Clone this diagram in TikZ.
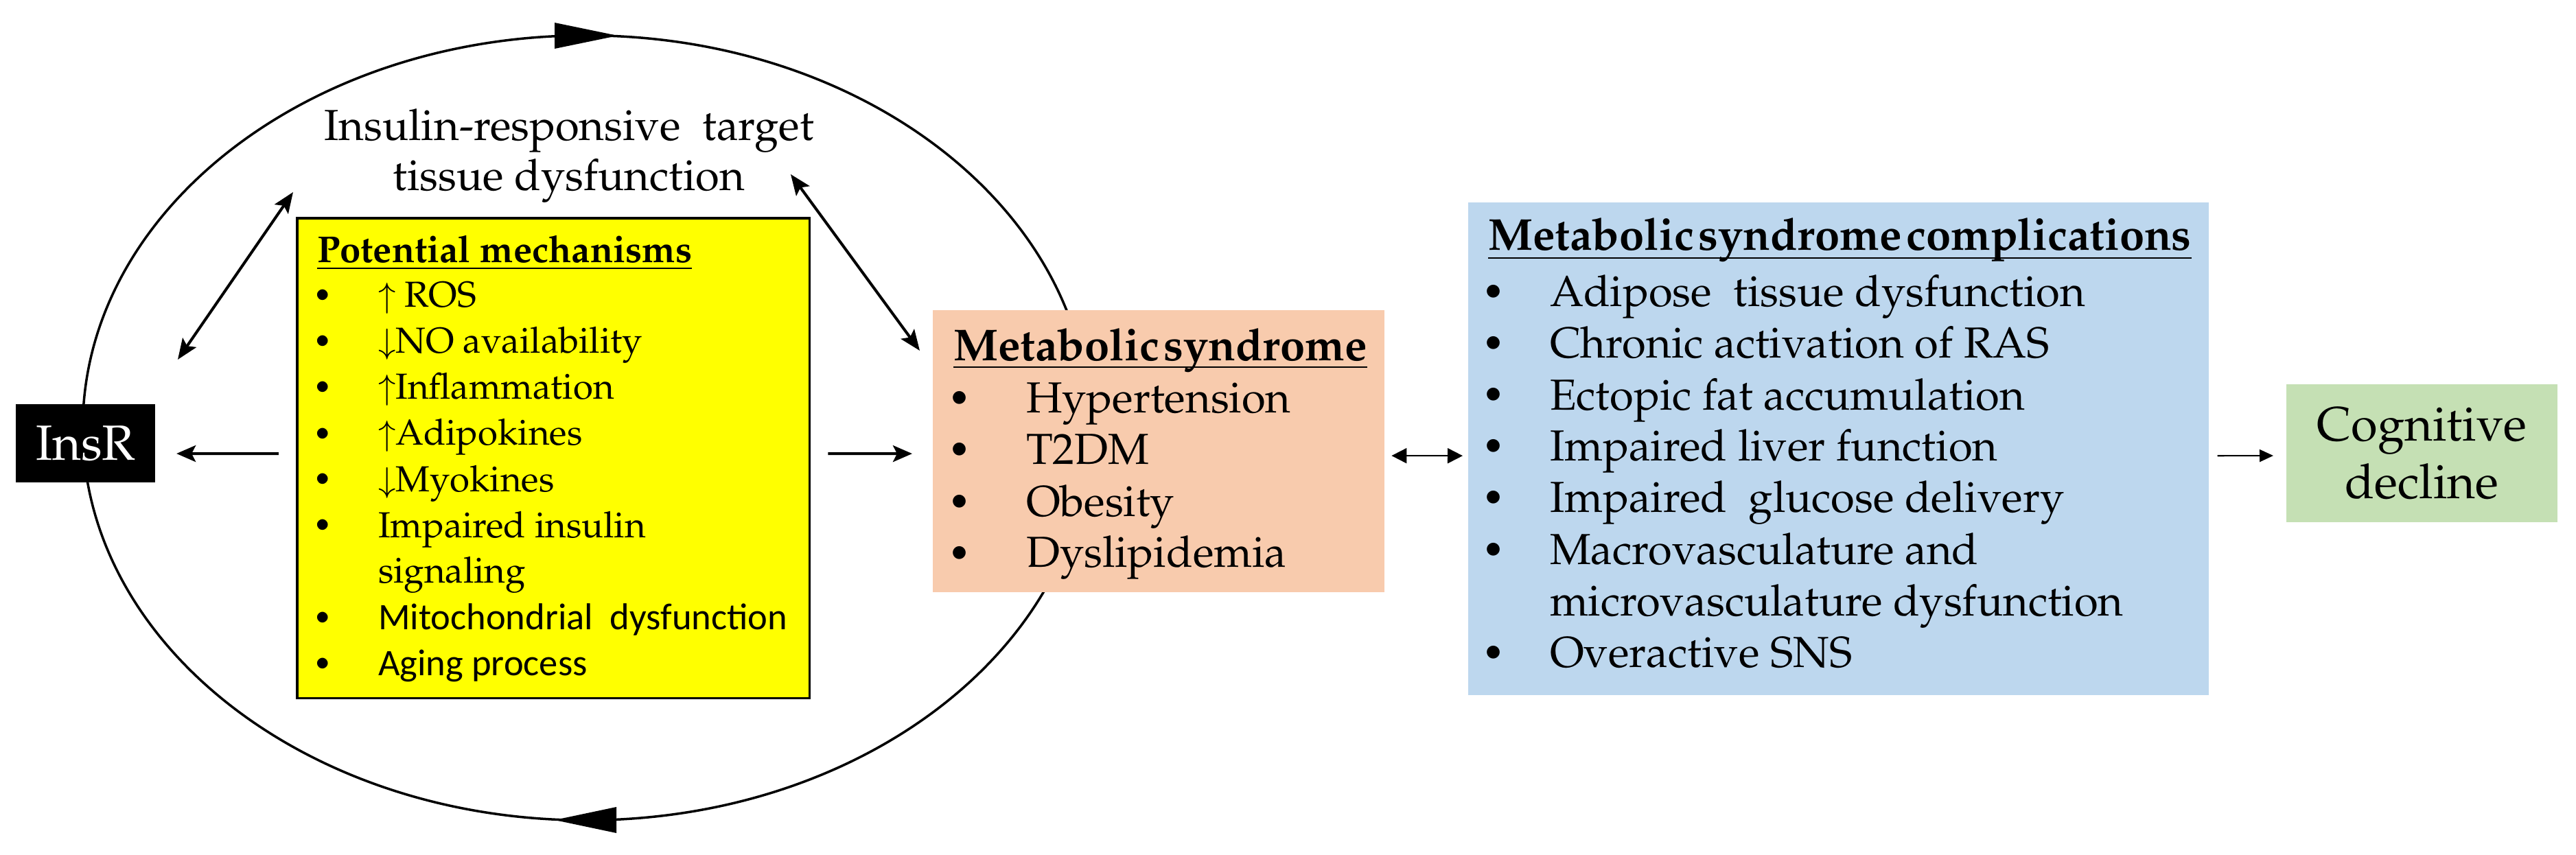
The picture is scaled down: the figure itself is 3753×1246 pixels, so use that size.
\documentclass[tikz,border=0pt]{standalone}
\usepackage{graphicx}
\usepackage{fontspec}
\newfontfamily\calib{Carlito}
\newcommand{\pal}{\fontencoding{T1}\fontfamily{ppl}\selectfont}
\newcommand{\smbul}{\scalebox{0.86}{\textbullet}}
\usetikzlibrary{arrows.meta,calc}
\definecolor{ylw}{HTML}{FFFF00}
\definecolor{peach}{HTML}{F8CBAD}
\definecolor{lblue}{HTML}{BDD7EE}
\definecolor{lgreen}{HTML}{C5E0B4}
\begin{document}
\begin{tikzpicture}[x=0.01cm,y=-0.01cm,
  box/.style={anchor=north west, inner sep=0pt, outer sep=0pt},
  txt/.style={anchor=base west, inner sep=0pt, outer sep=0pt},
  bul/.style={anchor=base, inner sep=0pt, outer sep=0pt},
  bigtxt/.style={font=\pal\fontsize{18}{21}\selectfont},
  smalltxt/.style={font=\pal\fontsize{15}{18}\selectfont},
  sanstxt/.style={font=\fontsize{15.5}{18}\selectfont\calib},
  bigttl/.style={txt, font=\pal\fontsize{18.5}{22}\selectfont\bfseries},
  smallttl/.style={txt, font=\pal\fontsize{15.5}{18}\selectfont\bfseries},
  uline/.style={line width=0.8pt},
  thickarr/.style={line width=1.15pt, -{Stealth[length=0.28cm,width=0.24cm,inset=0.06cm]}},
  dblarr/.style={line width=1.15pt, {Stealth[length=0.3cm,width=0.24cm,inset=0.06cm]}-{Stealth[length=0.3cm,width=0.24cm,inset=0.06cm]}},
  thinarr/.style={line width=0.6pt, -{Triangle[length=0.2cm,width=0.18cm]}},
  thindbl/.style={line width=0.6pt, {Triangle[length=0.22cm,width=0.22cm]}-{Triangle[length=0.22cm,width=0.22cm]}}
]
\useasboundingbox (0,0) rectangle (3753,1246);

% cycle ellipse
\draw[line width=1pt] (854,623.5) ellipse [x radius=7.33cm, y radius=5.715cm];
\fill (808,33) -- (900,52) -- (808,71) -- cycle;
\fill (898,1176) -- (808,1195) -- (898,1214) -- cycle;

% boxes
\node[box, fill=black, minimum width=2.03cm, minimum height=1.14cm,
      text=white, font=\pal\fontsize{20.5}{24}\selectfont] (insr) at (23,589) {InsR};
\node[box, draw=black, line width=0.9pt, fill=ylw, minimum width=7.46cm, minimum height=6.99cm] (ymech) at (433,318) {};
\node[box, fill=peach, minimum width=6.58cm, minimum height=4.11cm] (metab) at (1359,452) {};
\node[box, fill=lblue, minimum width=10.78cm, minimum height=7.18cm] (compl) at (2139,295) {};
\node[box, fill=lgreen, minimum width=3.95cm, minimum height=2.01cm, align=center,
      font=\pal\fontsize{20}{23.9}\selectfont] (cog) at (3331,560) {Cognitive\\decline};

% title of the cycle
\node[bigtxt, align=center, inner sep=0pt] (irt) at (829,227) {Insulin-responsive\ \ target\\tissue dysfunction};

% yellow box content
\node[smallttl] (ytitle) at (462,383) {Potential mechanisms};
\draw[uline] ($(ytitle.base west)+(0,8)$) -- ($(ytitle.base east)+(0,8)$);
\foreach \yy [count=\i] in {448,515,582,649,716,783,917,984}
  \node[bul, smalltxt] (yb\i) at (470,\yy-2) {\smbul};
\foreach \yy/\lbl [count=\i] in {448/{$\uparrow$ ROS},515/{$\downarrow$NO availability},582/{$\uparrow$Inflammation},649/{$\uparrow$Adipokines},716/{$\downarrow$Myokines},783/{Impaired insulin},850/{signaling}}
  \node[txt, smalltxt] (yt\i) at (551,\yy) {\lbl};
\node[txt, sanstxt] (yt8) at (551,917) {Mitochondrial\ \ dysfunction};
\node[txt, sanstxt] (yt9) at (551,984) {Aging process};

% metabolic syndrome content
\node[bigttl] (mtitle) at (1389,526) {{\spaceskip=0.1em\relax Metabolic syndrome}};
\draw[uline] ($(mtitle.base west)+(0,9)$) -- ($(mtitle.base east)+(0,9)$);
\foreach \yy/\lbl [count=\i] in {602/Hypertension,677/T2DM,752/Obesity,827/Dyslipidemia}{
  \node[bul, bigtxt] (mb\i) at (1398,\yy-3) {\smbul};
  \node[txt, bigtxt] (mt\i) at (1495,\yy) {\lbl};
}

% complications content
\node[bigttl] (ctitle) at (2168,365) {{\spaceskip=0.1em\relax Metabolic syndrome complications}};
\draw[uline] ($(ctitle.base west)+(0,11)$) -- ($(ctitle.base east)+(0,11)$);
\foreach \yy [count=\i] in {447,522,597,672,747,822,972}
  \node[bul, bigtxt] (cb\i) at (2176,\yy-3) {\smbul};
\foreach \yy/\lbl [count=\i] in {447/{Adipose\ \ tissue dysfunction},522/{Chronic activation of RAS},597/{Ectopic fat accumulation},672/{Impaired liver function},747/{Impaired\ \ glucose delivery},822/{Macrovasculature and},897/{microvasculature dysfunction},972/{Overactive SNS}}
  \node[txt, bigtxt] (ct\i) at (2258,\yy) {\lbl};

% connectors
\draw[thickarr] ([xshift=-0.27cm,yshift=0.065cm]ymech.west) -- ([xshift=0.31cm,yshift=-0.15cm]insr.east);
\draw[thickarr] ([xshift=0.27cm,yshift=0.065cm]ymech.east) -- ([xshift=-0.30cm,yshift=-0.035cm]metab.west);
\coordinate (dl1) at (427,280);
\coordinate (dl2) at (259,524);
\draw[dblarr] (dl1) -- (dl2);
\coordinate (dr1) at (1152,254);
\coordinate (dr2) at (1340,511);
\draw[dblarr] (dr1) -- (dr2);
\draw[thindbl] ([xshift=0.10cm,yshift=-0.065cm]metab.east) -- ([xshift=-0.08cm,yshift=-0.10cm]compl.west);
\draw[thinarr] ([xshift=0.13cm,yshift=-0.10cm]compl.east) -- ([xshift=-0.19cm,yshift=-0.035cm]cog.west);
\end{tikzpicture}
\end{document}
